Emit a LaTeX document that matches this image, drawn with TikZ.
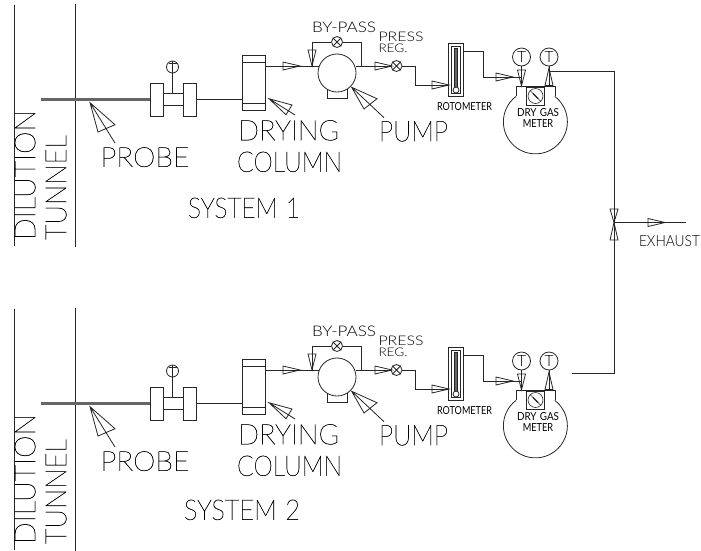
\documentclass[tikz,border=0pt]{standalone}
\usepackage{fontspec}
\setmainfont{Lato}
\newfontfamily\cadthin[FakeBold=1.0]{Lato Hairline}
\newfontfamily\cadlight{Lato Light}
\newfontfamily\cadsmall{Lato}
\newcommand{\fitbox}[3]{\resizebox{#1pt}{#2pt}{#3}}
\tikzset{
  line/.style={draw=black!85,line width=0.8pt},
  thick pipe/.style={draw=black!60,line width=2.6pt},
  lbl/.style={inner sep=0pt,outer sep=0pt,text=black},
  dial/.style={circle,draw=black!85,line width=0.8pt,inner sep=0pt,fill=white,font=\cadlight},
}
\newcommand{\headH}[2]{\draw[line] (#1,#2-4) -- (#1+17,#2) -- (#1,#2+4) -- cycle;}
\newcommand{\valve}[2]{%
  \node[circle,draw=black!85,line width=.8pt,minimum size=11pt,inner sep=0pt,fill=white] (#1) at #2 {};
  \draw[line] (#1.north west) -- (#1.south east) (#1.north east) -- (#1.south west);}
\newcommand{\onesystem}[3]{% #1 prefix, #2 y-offset, #3 system number
\begin{scope}[shift={(0,#2)}]
  % tunnel
  \coordinate (#1ta) at (14,5); \coordinate (#1tb) at (14,246);
  \coordinate (#1tc) at (75,4); \coordinate (#1td) at (75,247);
  \draw[line] (#1ta) -- (#1tb) (#1tc) -- (#1td);
  \node[lbl,rotate=90,anchor=south west] (#1dil) at (35.5,240) {\fitbox{130}{20.5}{\cadthin DILUTION}};
  \node[lbl,rotate=90,anchor=south west] (#1tun) at (66.5,240) {\fitbox{105}{20.5}{\cadthin TUNNEL}};
  % probe and flanges
  \coordinate (#1pa) at (41,99.5);
  \node[draw=black!85,line width=.8pt,minimum width=13pt,minimum height=33pt,inner sep=0pt] (#1fl) at (156.5,99.5) {};
  \node[draw=black!85,line width=.8pt,minimum width=13pt,minimum height=33pt,inner sep=0pt] (#1fr) at (189.5,99.5) {};
  \node[draw=black!85,line width=.8pt,minimum width=20pt,minimum height=12pt,inner sep=0pt] (#1fc) at (173,99.5) {};
  \draw[thick pipe] (#1pa) -- (#1fl.west);
  \node[circle,draw=black!85,line width=.8pt,minimum size=12pt,inner sep=0pt] (#1pt) at (172.5,67) {};
  \draw[line] (#1pt.north) -- (#1fc.north -| #1pt.north);
  \draw[line] (168.5,63.5) -- (176.5,63.5);
  % drying column
  \node[draw=black!85,line width=.8pt,minimum width=23pt,minimum height=55pt,inner sep=0pt] (#1col) at (253.5,82.5) {};
  \draw[line] (242,62) -- (265,62) (242,103) -- (265,103);
  \draw[line] (#1fr.east) -- (#1col.west |- #1fr.east);
  % pump
  \node[draw=black!85,line width=.8pt,minimum width=20pt,minimum height=12pt,inner sep=0pt] (#1pb) at (337,92) {};
  \node[circle,draw=black!85,line width=.8pt,minimum size=38pt,inner sep=0pt,fill=white] (#1pump) at (337,73) {};
  \coordinate (#1j) at (312,66); \coordinate (#1k) at (361,66);
  \draw[line] (265,66) -- (318.8,66);
  \headH{283}{66}
  \valve{#1bp}{(337,42)}
  \draw[line] (#1j) -- (312,42) -- (#1bp.west) (#1bp.east) -- (361,42) -- (#1k);
  \draw[line] (308,50) -- (316,50) -- (#1j) -- cycle;
  % pressure regulator
  \valve{#1reg}{(396.5,66)}
  \draw[line] (355.5,66) -- (#1reg.west);
  \headH{375}{66}
  % rotometer
  \node[draw=black!85,line width=.8pt,minimum width=15pt,minimum height=53pt,inner sep=0pt] (#1rot) at (456,70) {};
  \draw[line] (451,46.5) rectangle (460.5,93.5);
  \draw[line,fill=black!60] (454.5,48) rectangle (457,87);
  \draw[line,fill=white] (456,90) circle (3);
  \draw[line] (#1reg.east) -- (415.5,66) -- (415.5,85) -- (448.5,85);
  \headH{432}{85}
  % dry gas meter
  \draw[line] (516,96.4) -- (516,86) -- (555,86) -- (555,96.4);
  \draw[line] (516,96.4) arc[start angle=232.7,end angle=-52.7,radius=32];
  \node[draw=black!85,line width=.9pt,minimum width=18pt,minimum height=18pt,inner sep=0pt,fill=white] (#1gb) at (535.5,96) {};
  \node[circle,draw=black!85,line width=.6pt,minimum size=15pt,inner sep=0pt] (#1gc) at (535.5,96) {};
  \draw[draw=black!85,line width=.5pt] (#1gc.north west) -- (#1gc.south east);
  \draw[draw=black!85,line width=1.3pt] (533,93.5) -- (538,98.5);
  \node[lbl] (#1dg) at (538,113) {\fitbox{42}{8}{\cadsmall DRY\,\,GAS}};
  \node[lbl] (#1mt) at (538,123.3) {\fitbox{30.5}{8}{\cadsmall METER}};
  \node[dial,minimum size=18pt] (#1t1) at (521.5,57) {};
  \node[lbl] at (#1t1) {\fitbox{9}{11}{\cadlight T}};
  \node[dial,minimum size=18pt] (#1t2) at (549,57) {};
  \node[lbl] at (#1t2) {\fitbox{9}{11}{\cadlight T}};
  \draw[line] (#1t1.south) -- (521.5,86);
  \draw[line] (517.5,70) -- (525.5,70) -- (521.5,86) -- cycle;
  \draw[line] (#1t2.south) -- (549,86);
  \draw[line] (545,85.5) -- (553,85.5) -- (549,68) -- cycle;
  \draw[line] (463.5,51.5) -- (483.5,51.5) -- (483.5,77) -- (521.5,77);
  \headH{496}{77}
  % leader pointers
  \draw[line] (90,102.7) -- (98,132) -- (115,124.7) -- cycle (90,102.7) -- (115,143);
  \draw[line] (269,98.7) -- (286,114.7) -- (292,105) -- cycle (269,98.7) -- (295,115);
  \draw[line] (351.7,87.3) -- (364,109) -- (377,98.7) -- cycle (351.7,87.3) -- (384,117.7);
  % labels
  \node[lbl,anchor=south west] (#1l1) at (100.5,167) {\fitbox{89}{19.5}{\cadthin PROBE}};
  \node[lbl,anchor=south west] (#1l2) at (238,140.5) {\fitbox{101}{20}{\cadthin DRYING}};
  \node[lbl,anchor=south west] (#1l3) at (237,172) {\fitbox{105}{20}{\cadthin COLUMN}};
  \node[lbl,anchor=south west] (#1l4) at (379,141.5) {\fitbox{69}{20}{\cadthin PUMP}};
  \node[lbl,anchor=south west] (#1l5) at (312,33) {\fitbox{64}{10.5}{\cadlight BY-PASS}};
  \node[lbl,anchor=south west] (#1l6) at (378.5,41.5) {\fitbox{45}{9.5}{\cadlight PRESS}};
  \node[lbl,anchor=south west] (#1l7) at (378.5,52.5) {\fitbox{29}{8.5}{\cadlight REG.}};
  \node[lbl,anchor=south west] (#1l8) at (437,111) {\fitbox{55}{8}{\cadsmall ROTOMETER}};
\end{scope}}
\begin{document}
\begin{tikzpicture}[x=1pt,y=-1pt]
  \useasboundingbox (0,0) rectangle (701,550);
  \begin{scope}
  \clip (0,0) rectangle (701,550);
  \onesystem{a}{0}{1}
  \onesystem{b}{304}{2}
  \end{scope}
  \node[lbl,anchor=south west] (sys1) at (188,218) {\fitbox{112}{20}{\cadthin SYSTEM\,\,1}};
  \node[lbl,anchor=south west] (sys2) at (184,520) {\fitbox{116}{20}{\cadthin SYSTEM\,\,2}};
  % common exhaust
  \coordinate (x1) at (549,71); \coordinate (x2) at (572,373);
  \coordinate (vtop) at (614,71); \coordinate (vbot) at (614,373);
  \coordinate (ex) at (686,222.5);
  \draw[line] (x1) -- (vtop) -- (vbot) -- (x2);
  \draw[line] (614,222.5) -- (ex);
  \draw[line] (610,209) -- (618,209) -- (614,222.5) -- cycle;
  \draw[line] (610,240) -- (618,240) -- (614,222.5) -- cycle;
  \draw[line] (648,218.5) -- (665,222.5) -- (648,226.5) -- cycle;
  \node[lbl,anchor=south west] (exh) at (639,247) {\fitbox{61}{11}{\cadlight EXHAUST}};
\end{tikzpicture}
\end{document}
